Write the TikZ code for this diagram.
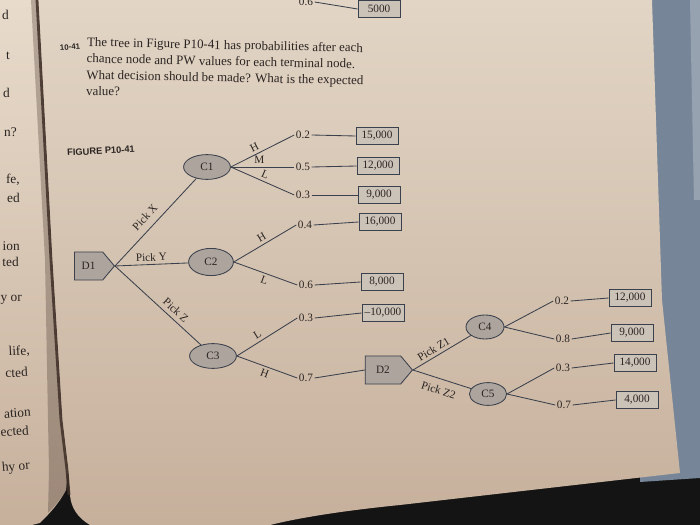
\documentclass[tikz,border=0pt]{standalone}
\usepackage{fontspec}
\setmainfont{Liberation Serif}
\setsansfont{Liberation Sans}
\usetikzlibrary{positioning,shapes.geometric,shapes.symbols}
\definecolor{pgPaper}  {RGB}{226,213,197}
\definecolor{pgPaperL} {RGB}{232,219,203}
\definecolor{pgPaperD} {RGB}{198,176,156}
\definecolor{pgInk}    {RGB}{ 42, 36, 34}
\definecolor{pgLine}   {RGB}{ 58, 64, 76}
\definecolor{pgNode}   {RGB}{172,164,157}
\definecolor{pgBox}    {RGB}{203,194,184}
\definecolor{pgSlate}  {RGB}{118,134,152}
\definecolor{pgSlateL} {RGB}{150,162,176}
\definecolor{pgGutter} {RGB}{ 62, 46, 38}

\begin{document}
\begin{tikzpicture}[x=0.025cm,y=-0.025cm,
  every node/.style={font=\fontsize{8}{9.6}\selectfont,text=pgInk},
  branch/.style={draw=pgLine,line width=0.6pt},
  chance/.style={ellipse,draw=pgLine,fill=pgNode,line width=0.6pt,inner sep=0pt,
                 minimum width=1.17cm,minimum height=0.62cm},
  dec/.style={signal,signal to=east,signal pointer angle=100,draw=pgLine,fill=pgNode,
              line width=0.6pt,inner sep=0pt,minimum width=1.0cm,minimum height=0.7cm,anchor=east},
  pw/.style={draw=pgLine,fill=pgBox,line width=0.6pt,inner sep=0pt,
             minimum width=1.05cm,minimum height=0.42cm},
  prob/.style={inner sep=1pt},
  brl/.style={sloped,inner sep=2pt},
  margin/.style={font=\fontsize{9.5}{11}\selectfont,anchor=east,inner sep=0pt}
]
\useasboundingbox (0,0) rectangle (700,525);
\clip (0,0) rectangle (700,525);
% photo background: desk, cover, pages
\fill[black!92] (0,0) rectangle (700,525);
\fill[pgSlate] (640,0) -- (700,0) -- (700,478) -- (640,482) -- cycle;
\fill[pgSlateL] (690,0) -- (700,0) -- (700,200) -- (694,200) -- cycle;
\shade[top color=pgPaperL,bottom color=pgPaperD]
  (0,0) -- (38,0) -- (52,260) -- (62,420) -- (68,470) -- (66,490)
  .. controls (58,505) and (48,515) .. (40,523) -- (32,525) -- (0,525) -- cycle;
\shade[top color=pgPaper,bottom color=pgPaperD]
  (38,0) -- (652,0) -- (662,300) -- (680,473) -- (400,505)
  .. controls (330,512) and (290,520) .. (270,525) -- (90,525)
  .. controls (78,518) and (71,508) .. (70,495) -- (68,470) -- (62,420) -- (52,260) -- cycle;
% gutter shadow
\fill[pgGutter,opacity=0.3] (31,0) -- (38,0) -- (52,260) -- (62,420) -- (68,470) -- (66,490)
  .. controls (60,500) and (54,507) .. (48,513) -- (49,470) -- (48,420) -- (45,260) -- cycle;
\draw[pgGutter,line width=2pt,opacity=0.85] (37,0) -- (51,260) -- (61,420) -- (67,470) -- (69,495);
% facing page, cut off at the margin
\node[margin] (m1)  at (9,15)   {d};
\node[margin] (m2)  at (10,56)  {t};
\node[margin] (m3)  at (10,93)  {d};
\node[margin] (m4)  at (17,132) {n?};
\node[margin] (m5)  at (20,180) {fe,};
\node[margin] (m6)  at (20,198) {ed};
\node[margin] (m7)  at (20,246) {ion};
\node[margin] (m8)  at (19,262) {ted};
\node[margin] (m9)  at (22,300) {y or};
\node[margin,rotate=3] (m10) at (30,351) {life,};
\node[margin,rotate=3] (m11) at (28,372) {cted};
\node[margin,rotate=4] (m12) at (31,412) {ation};
\node[margin,rotate=4] (m13) at (29,430) {ected};
\node[margin,rotate=5] (m14) at (30,466) {hy or};
% problem statement
\node[font=\sffamily\bfseries\fontsize{5.6}{6}\selectfont,rotate=5] (num) at (70,47) {10-41};
\node[anchor=north west,rotate=-1.2,font=\fontsize{9.2}{11.6}\selectfont,align=left,inner sep=0pt]
  (Q) at (87,37) {The tree in Figure P10-41 has probabilities after each\\
  chance node and PW values for each terminal node.\\
  What decision should be made? What is the expected\\
  value?};
\node[font=\sffamily\bfseries\fontsize{6.6}{7}\selectfont,rotate=3] (fig) at (101,151) {FIGURE P10-41};
% left over from the tree above
\node[prob] (q0) at (306,2) {0.6};
\node[pw] (t0) at (379,9) {5000};
\draw[branch] (q0.east) -- (t0.west);
% decision and chance nodes
\node[dec] (D1) at (115,266) {D1};
\node[chance] (C1) at (207,167) {C1};
\node[chance,minimum width=1.12cm,minimum height=0.68cm] (C2) at (211,262) {C2};
\node[chance] (C3) at (213,356) {C3};
\node[dec,minimum width=1.18cm] (D2) at (413,370) {D2};
\node[chance,minimum width=0.95cm,minimum height=0.6cm] (C4) at (485,327) {C4};
\node[chance,minimum width=0.93cm,minimum height=0.57cm] (C5) at (488,394) {C5};
% probabilities
\node[prob] (q1)  at (303,135) {0.2};
\node[prob] (q2)  at (303,167) {0.5};
\node[prob] (q3)  at (303,195) {0.3};
\node[prob] (q4)  at (305,225) {0.4};
\node[prob] (q5)  at (306,285) {0.6};
\node[prob] (q6)  at (306,318) {0.3};
\node[prob] (q7)  at (306,378) {0.7};
\node[prob] (q8)  at (562,301) {0.2};
\node[prob] (q9)  at (563,339) {0.8};
\node[prob] (q10) at (563,368) {0.3};
\node[prob] (q11) at (564,405) {0.7};
% terminal PW values
\node[pw] (t1)  at (377,136) {15,000};
\node[pw] (t2)  at (378,166) {12,000};
\node[pw] (t3)  at (379,195) {9,000};
\node[pw] (t4)  at (380,222) {16,000};
\node[pw] (t5)  at (382,282) {8,000};
\node[pw] (t6)  at (383,313) {--10,000};
\node[pw] (t8)  at (630,298) {12,000};
\node[pw] (t9)  at (632,333) {9,000};
\node[pw] (t10) at (635,363) {14,000};
\node[pw] (t11) at (637,400) {4,000};
% decisions at D1
\draw[branch] (D1.east) -- node[brl,above=3pt,pos=0.47]{Pick X} (C1);
\draw[branch] (D1.east) -- node[brl,above]{Pick Y} (C2);
\draw[branch] (D1.east) -- node[brl,above=1pt,pos=0.64]{Pick Z} (C3);
% outcomes
\draw[branch] (C1.east) -- node[brl,above,pos=0.42]{H} (q1.west);
\draw[branch] (C1.east) -- node[brl,above,pos=0.45]{M} (q2.west);
\draw[branch] (C1.east) -- node[brl,above,pos=0.5]{L} (q3.west);
\draw[branch] (C2.east) -- node[brl,above,pos=0.5]{H} (q4.west);
\draw[branch] (C2.east) -- node[brl,below,pos=0.52]{L} (q5.west);
\draw[branch] (C3.east) -- node[brl,above,pos=0.4]{L} (q6.west);
\draw[branch] (C3.east) -- node[brl,below,pos=0.5]{H} (q7.west);
% decisions at D2
\draw[branch] (D2.east) -- node[brl,above,pos=0.42]{Pick Z1} (C4);
\draw[branch] (D2.east) -- node[brl,below=3pt,pos=0.5]{Pick Z2} (C5);
\draw[branch] (C4.east) -- (q8.west);
\draw[branch] (C4.east) -- (q9.west);
\draw[branch] (C5.east) -- (q10.west);
\draw[branch] (C5.east) -- (q11.west);
% to the values
\foreach \i in {1,...,6,8,9,10,11}
  \draw[branch] (q\i.east) -- (t\i.west);
\draw[branch] (q7.east) -- (D2.west);
\end{tikzpicture}
\end{document}
